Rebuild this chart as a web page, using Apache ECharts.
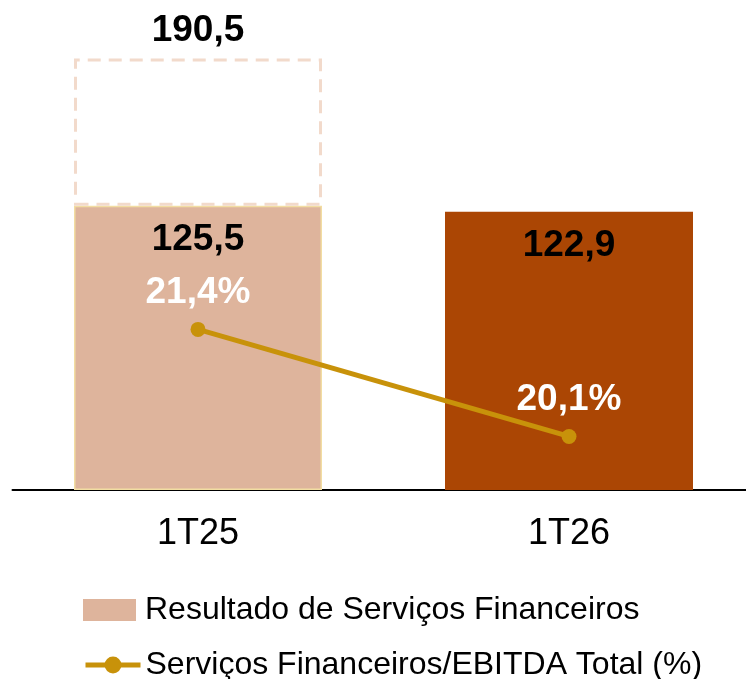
<!DOCTYPE html>
<html>
<head>
<meta charset="utf-8">
<script src="https://cdn.jsdelivr.net/npm/echarts@6/dist/echarts.min.js"></script>
<style>html,body{margin:0;padding:0;background:#fff}#c{width:746px;height:679px}</style>
</head>
<body>
<div id="c"></div>
<script>
var categories = ['1T25', '1T26'];
var resultado = [125.5, 122.9];
var totalAnterior = [190.5, null];
var ratio = [21.4, 20.1];
var seriesNames = ['Resultado de Serviços Financeiros', 'Serviços Financeiros/EBITDA Total (%)'];

function fmt(v, suffix) {
  return v.toFixed(1).replace('.', ',') + (suffix || '');
}

var dashedPart = totalAnterior.map(function (t, i) { return t == null ? null : +(t - resultado[i]).toFixed(1); });

var FONT = 'Liberation Sans, Arial, sans-serif';
var chart = echarts.init(document.getElementById('c'), null, {renderer: 'canvas'});
chart.setOption({
  animation: false,
  textStyle: {fontFamily: FONT},
  grid: {left: 12.5, width: 742, top: 37, height: 453, containLabel: false, outerBoundsMode: 'none'},
  legend: [
    {
      data: [{name: seriesNames[0], icon: 'rect'}],
      left: 83, top: 594, padding: 0, itemWidth: 53, itemHeight: 22, itemGap: 10,
      textStyle: {fontSize: 32, color: '#000', fontFamily: FONT, padding: [0, 0, 0, 4]},
      selectedMode: false
    },
    {
      data: [seriesNames[1]],
      left: 83, top: 649, padding: 0, itemWidth: 55, itemHeight: 21, itemGap: 4,
      lineStyle: {width: 5},
      textStyle: {fontSize: 32, color: '#000', fontFamily: FONT},
      selectedMode: false
    }
  ],
  xAxis: {
    type: 'category',
    data: categories,
    axisLine: {lineStyle: {color: '#000', width: 2}},
    axisTick: {show: false},
    axisLabel: {fontSize: 36, color: '#000', margin: 26, fontFamily: FONT}
  },
  yAxis: [
    {type: 'value', min: 0, max: 200, show: false, splitLine: {show: false}},
    {type: 'value', min: 19.45, max: 24.95, show: false, splitLine: {show: false}}
  ],
  series: [
    {
      name: seriesNames[0],
      type: 'bar',
      stack: 'a',
      barWidth: 248,
      data: [
        {value: resultado[0], itemStyle: {color: '#DEB49C', borderColor: '#F2DDA2', borderWidth: 1.5}},
        {value: resultado[1], itemStyle: {color: '#AB4604'}}
      ],
      itemStyle: {color: '#DEB49C'},
      label: {
        show: true, position: 'insideTop', distance: 16,
        fontSize: 37, fontWeight: 'bold', color: '#000',
        fontFamily: FONT,
        formatter: function (p) { return fmt(p.value); }
      },
      z: 2
    },
    {
      name: 'anterior',
      type: 'bar',
      stack: 'a',
      barWidth: 248,
      data: dashedPart,
      itemStyle: {color: 'rgba(255,255,255,0)', borderColor: '#F2DACB', borderWidth: 3, borderType: [13, 8]},
      label: {
        show: true, position: 'top', distance: 9,
        fontSize: 37, fontWeight: 'bold', color: '#000',
        fontFamily: FONT,
        formatter: function (p) { return p.value == null ? '' : fmt(totalAnterior[p.dataIndex]); }
      },
      z: 3
    },
    {
      name: seriesNames[1],
      type: 'line',
      yAxisIndex: 1,
      data: ratio,
      symbol: 'circle',
      symbolSize: 15,
      lineStyle: {color: '#C8920A', width: 5},
      itemStyle: {color: '#C8920A'},
      label: {
        show: true, position: 'top', distance: 11,
        fontSize: 37, fontWeight: 'bold', color: '#fff',
        fontFamily: FONT,
        formatter: function (p) { return fmt(p.value, '%'); }
      },
      z: 5
    }
  ]
});
</script>
</body>
</html>
